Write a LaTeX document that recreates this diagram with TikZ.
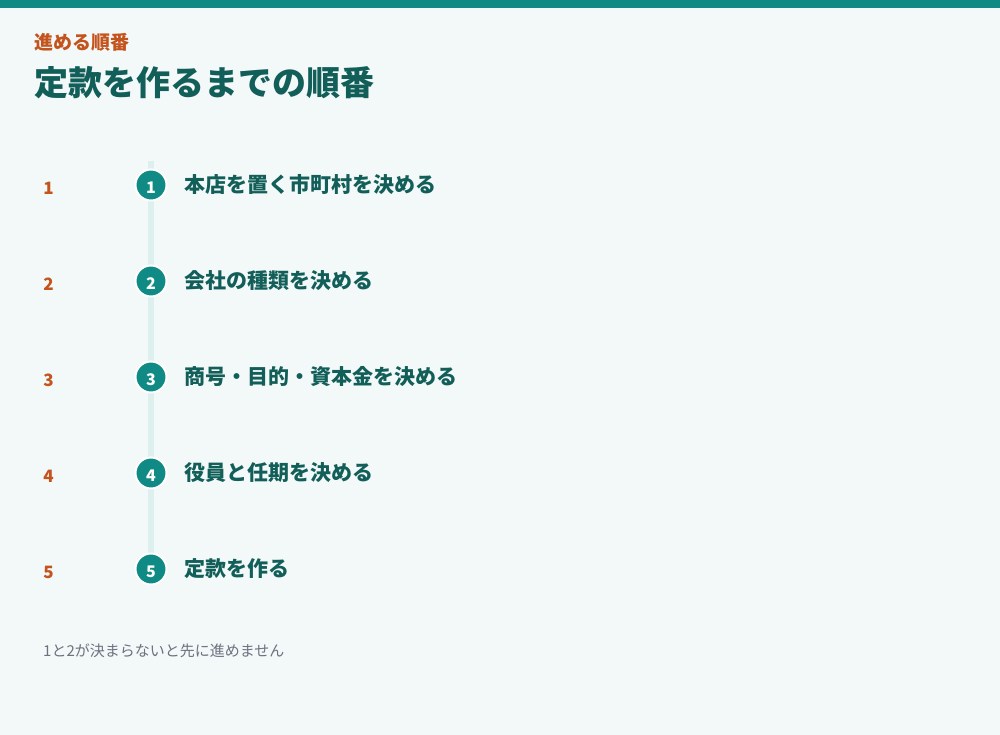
\documentclass[tikz,border=0pt]{standalone}
\usepackage{fontspec}
\setmainfont{Noto Sans CJK JP}
\definecolor{bg}{HTML}{F3F8F8}
\definecolor{teal}{HTML}{108A84}
\definecolor{darkteal}{HTML}{125E59}
\definecolor{orng}{HTML}{C4541D}
\definecolor{track}{HTML}{DDF0EE}
\definecolor{gry}{HTML}{6B7280}
\tikzset{
  x=1pt,y=-1pt,
  stepdot/.style={circle,fill=teal,draw=white,line width=2pt,minimum size=31pt,inner sep=0pt,text=white,font=\fontsize{16}{16}\selectfont\bfseries},
  steplabel/.style={anchor=west,text=darkteal,font=\fontsize{21}{21}\selectfont\bfseries,inner sep=0pt},
  stepnum/.style={text=orng,font=\fontsize{17}{17}\selectfont\bfseries,inner sep=0pt},
}
\begin{document}
\begin{tikzpicture}
\fill[bg] (0,0) rectangle (1000,735);
\useasboundingbox (0,0) rectangle (1000,735);
\fill[teal] (0,0) rectangle (1000,8);
\node[anchor=west,inner sep=0pt,text=orng,font=\fontsize{19}{19}\selectfont\bfseries] (sub) at (34,42) {進める順番};
\node[anchor=west,inner sep=0pt,text=darkteal,font=\fontsize{34}{34}\selectfont\bfseries] (title) at (34,83) {定款を作るまでの順番};
\coordinate (ltop) at (151,161);
\coordinate (lbot) at (151,569);
\draw[track,line width=6pt] (ltop) -- (lbot);
\foreach \i/\t in {1/本店を置く市町村を決める,2/会社の種類を決める,3/商号・目的・資本金を決める,4/役員と任期を決める,5/定款を作る}{
  \pgfmathsetmacro{\yy}{185+96*(\i-1)}
  \node[stepnum] (n\i) at (48.5,\yy+3.5) {\i};
  \node[stepdot] (c\i) at (151,\yy) {};
  \node[text=white,font=\fontsize{16}{16}\selectfont\bfseries,inner sep=0pt] (d\i) at (151,\yy+3) {\i};
  \node[steplabel] (l\i) at (184,\yy) {\t};
}
\node[anchor=west,inner sep=0pt,text=gry,font=\fontsize{15}{15}\selectfont] (foot) at (43,651) {1と2が決まらないと先に進めません};
\end{tikzpicture}
\end{document}
